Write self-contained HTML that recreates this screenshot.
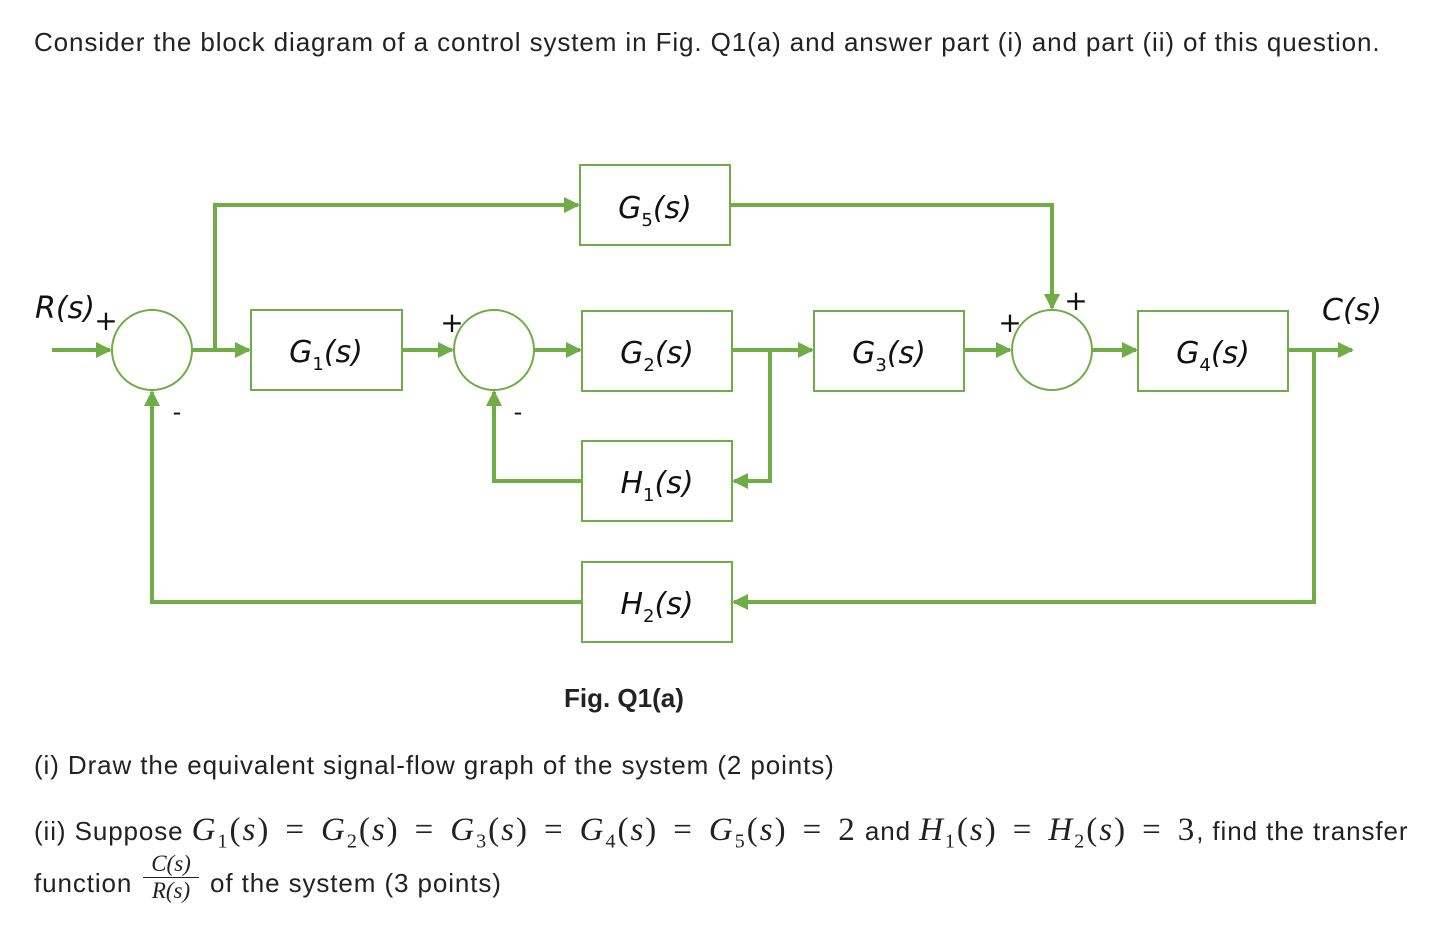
<!DOCTYPE html>
<html><head><meta charset="utf-8"><style>
body{margin:0;background:#fff;width:1432px;height:936px;overflow:hidden;font-family:"Liberation Sans",sans-serif;color:#222}
.t{position:absolute;font-size:26px;letter-spacing:0.9px;white-space:nowrap}
.m{font-family:"Liberation Serif",serif;font-size:33px;letter-spacing:2px}
.m b{font-weight:normal;margin:0 15px}
.m sub{font-size:20px}
.mi{font-family:"Liberation Serif",serif;font-style:italic}
</style></head><body>
<div class="t" style="left:34px;top:27px">Consider the block diagram of a control system in Fig. Q1(a) and answer part (i) and part (ii) of this question.</div>
<svg width="1432" height="936" style="position:absolute;left:0;top:0">
<defs><marker id="a" markerWidth="4" markerHeight="4" refX="3.5" refY="2" orient="auto" markerUnits="strokeWidth"><path d="M0,0L4,2L0,4z" fill="#70AD47"/></marker></defs>
<g fill="none" stroke="#70AD47" stroke-width="2">
<circle cx="152" cy="350" r="40"/><circle cx="494" cy="350" r="40"/><circle cx="1052" cy="350" r="40"/>
<rect x="251" y="310" width="151" height="80"/><rect x="580" y="165" width="150" height="80"/>
<rect x="582" y="311" width="150" height="80"/><rect x="814" y="311" width="150" height="80"/>
<rect x="1138" y="311" width="150" height="80"/><rect x="582" y="441" width="150" height="80"/>
<rect x="582" y="562" width="150" height="80"/>
</g>
<g fill="none" stroke="#70AD47" stroke-width="4">
<path d="M52 350H110" marker-end="url(#a)"/>
<path d="M192 350H249" marker-end="url(#a)"/>
<path d="M215 350V205H578" marker-end="url(#a)"/>
<path d="M730 205H1052V308" marker-end="url(#a)"/>
<path d="M402 350H452" marker-end="url(#a)"/>
<path d="M534 350H580" marker-end="url(#a)"/>
<path d="M732 350H812" marker-end="url(#a)"/>
<path d="M770 350V481H734" marker-end="url(#a)"/>
<path d="M582 481H494V392" marker-end="url(#a)"/>
<path d="M964 350H1010" marker-end="url(#a)"/>
<path d="M1092 350H1136" marker-end="url(#a)"/>
<path d="M1288 350H1352" marker-end="url(#a)"/>
<path d="M1314 350V602H734" marker-end="url(#a)"/>
<path d="M582 602H152V392" marker-end="url(#a)"/>
</g>
<g font-family="'DejaVu Sans',sans-serif" font-size="30" fill="#111" text-anchor="middle">
<text x="326" y="362" font-style="italic">G<tspan font-size="18" dy="8" font-style="normal">1</tspan><tspan dy="-8">(s)</tspan></text>
<text x="655" y="218" font-style="italic">G<tspan font-size="18" dy="8" font-style="normal">5</tspan><tspan dy="-8">(s)</tspan></text>
<text x="657" y="363" font-style="italic">G<tspan font-size="18" dy="8" font-style="normal">2</tspan><tspan dy="-8">(s)</tspan></text>
<text x="889" y="363" font-style="italic">G<tspan font-size="18" dy="8" font-style="normal">3</tspan><tspan dy="-8">(s)</tspan></text>
<text x="1213" y="363" font-style="italic">G<tspan font-size="18" dy="8" font-style="normal">4</tspan><tspan dy="-8">(s)</tspan></text>
<text x="657" y="493" font-style="italic">H<tspan font-size="18" dy="8" font-style="normal">1</tspan><tspan dy="-8">(s)</tspan></text>
<text x="657" y="614" font-style="italic">H<tspan font-size="18" dy="8" font-style="normal">2</tspan><tspan dy="-8">(s)</tspan></text>
<text x="65" y="318" font-style="italic">R(s)</text>
<text x="1352" y="320" font-style="italic">C(s)</text>
<text x="106" y="330" font-size="28">+</text>
<text x="452" y="332" font-size="28">+</text>
<text x="1010" y="332" font-size="28">+</text>
<text x="1076" y="310" font-size="28">+</text>
<text x="177" y="420" font-size="24">-</text>
<text x="518" y="420" font-size="24">-</text>
</g>
</svg>
<div class="t" style="left:564px;top:683px;font-weight:bold;letter-spacing:0">Fig. Q1(a)</div>
<div class="t" style="left:34px;top:750px">(i) Draw the equivalent signal-flow graph of the system (2 points)</div>
<div class="t" style="left:34px;top:812px">(ii) Suppose <span class="m"><i>G</i><sub>1</sub>(<i>s</i>)<b>=</b><i>G</i><sub>2</sub>(<i>s</i>)<b>=</b><i>G</i><sub>3</sub>(<i>s</i>)<b>=</b><i>G</i><sub>4</sub>(<i>s</i>)<b>=</b><i>G</i><sub>5</sub>(<i>s</i>)<b>=</b>2</span> and <span class="m"><i>H</i><sub>1</sub>(<i>s</i>)<b>=</b><i>H</i><sub>2</sub>(<i>s</i>)<b>=</b>3</span>, find the transfer</div>
<div class="t" style="left:34px;top:868px">function</div>
<div style="position:absolute;left:143px;top:851px;width:56px;text-align:center;font-family:'Liberation Serif',serif;font-size:23px;line-height:26px">
<div class="mi" style="border-bottom:1.5px solid #222">C(s)</div><div class="mi">R(s)</div></div>
<div class="t" style="left:210px;top:868px">of the system (3 points)</div>
</body></html>
